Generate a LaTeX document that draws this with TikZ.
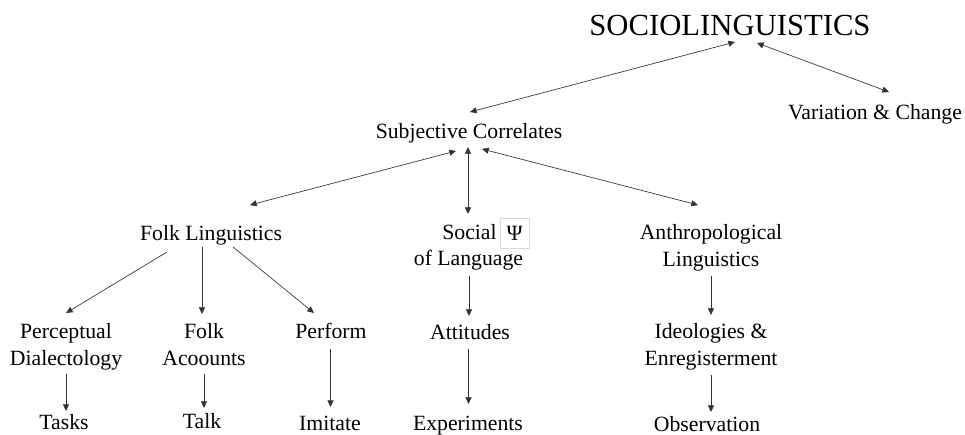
\documentclass[tikz,border=0pt]{standalone}
\usepackage{fontspec}
\setmainfont{Liberation Serif}
\usepackage{tikz}
\usetikzlibrary{arrows.meta, positioning}
\tikzset{lab/.style={inner sep=1pt, align=center, font=\fontsize{16.3}{20}\selectfont},
  link/.style={-{Stealth[length=5pt,width=4.5pt,inset=0pt]}, line width=0.5pt, black!80},
  dlink/.style={{Stealth[length=5pt,width=4.5pt,inset=0pt]}-{Stealth[length=5pt,width=4.5pt,inset=0pt]}, line width=0.5pt, black!80}}
\begin{document}
\begin{tikzpicture}[x=0.75pt,y=-0.75pt]
        \useasboundingbox (0,0) rectangle (965,435);
        % Draw the labels
        \node (socio)  [lab, font=\fontsize{23}{27}\selectfont] at (730,25) {SOCIOLINGUISTICS};
        \node (varia)  [lab] at (875,114) {Variation \& Change};
        \node (subj)   [lab] at (469,133) {Subjective Correlates};
        \node (folk)   [lab] at (211,235) {Folk Linguistics};
        \node (social) [lab] at (469.5,232) {Social};
        \node (psi)    [draw=black!15, minimum size=22pt, inner sep=0pt, yshift=-1pt, font=\fontsize{16.3}{20}\selectfont, right=1pt of social] {Ψ};
        \node (oflang) [lab] at (468.5,260) {of Language};
        \node (anthro) [lab] at (711,247.5) {Anthropological\\Linguistics};
        \node (percep) [lab] at (66,346.5) {Perceptual\\Dialectology};
        \node (facc)   [lab] at (204,344.5) {Folk\\Acoounts};
        \node (perf)   [lab] at (331,331) {Perform};
        \node (atti)   [lab] at (470,332) {Attitudes};
        \node (ideo)   [lab] at (711,346.5) {Ideologies \&\\Enregisterment};
        \node (tasks)  [lab] at (64,422) {Tasks};
        \node (talk)   [lab] at (202,421) {Talk};
        \node (imit)   [lab] at (330,423) {Imitate};
        \node (expe)   [lab] at (468,426) {Experiments};
        \node (obse)   [lab] at (707,424) {Observation};
        % Draw the connecting lines
        \draw [dlink] ([shift={(5,17)}]socio.center) -- ([shift={(1,-21)}]subj.center);
        \draw [dlink] ([shift={(27,18)}]socio.center) -- ([shift={(14,-22)}]varia.center);
        \draw [dlink] ([shift={(-13,18)}]subj.center) -- ([shift={(39,-30)}]folk.center);
        \draw [dlink] ([shift={(-1,14)}]subj.center) -- ([shift={(-1.5,-18)}]social.center);
        \draw [dlink] ([shift={(13,16)}]subj.center) -- ([shift={(-13,-42.5)}]anthro.center);
        \draw [link] ([shift={(-44,17)}]folk.center) -- ([shift={(0,-33.5)}]percep.center);
        \draw [link] ([shift={(-9,12)}]folk.center) -- ([shift={(-2,-30.5)}]facc.center);
        \draw [link] ([shift={(22,12)}]folk.center) -- ([shift={(-17,-18)}]perf.center);
        \draw [link] ([shift={(0.5,16)}]oflang.center) -- ([shift={(-1,-16)}]atti.center);
        \draw [link] ([shift={(0,28.5)}]anthro.center) -- ([shift={(0,-31.5)}]ideo.center);
        \draw [link] ([shift={(0,27.5)}]percep.center) -- ([shift={(2,-11)}]tasks.center);
        \draw [link] ([shift={(0,29.5)}]facc.center) -- ([shift={(2,-13)}]talk.center);
        \draw [link] ([shift={(-0.5,18)}]perf.center) -- ([shift={(0.5,-16)}]imit.center);
        \draw [link] ([shift={(-1.5,17)}]atti.center) -- ([shift={(0.5,-22)}]expe.center);
        \draw [link] ([shift={(0,28.5)}]ideo.center) -- ([shift={(4,-12)}]obse.center);
    \end{tikzpicture}
\end{document}
